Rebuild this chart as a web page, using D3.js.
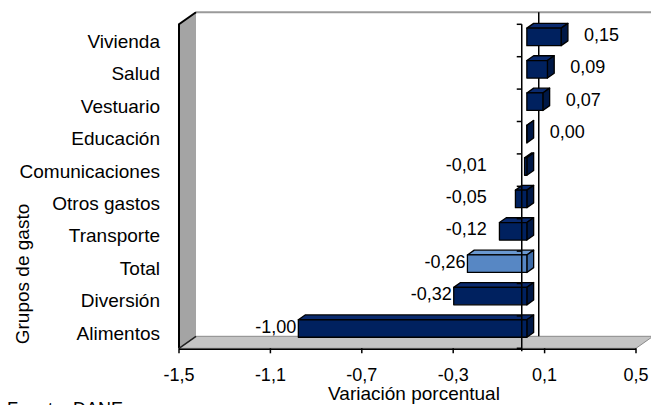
<!DOCTYPE html>
<html><head><meta charset="utf-8">
<script src="https://cdn.jsdelivr.net/npm/d3@7/dist/d3.min.js"></script>
<style>body{margin:0;background:#fff}svg{display:block}text{font-family:"Liberation Sans",Arial,sans-serif;fill:#000}</style>
</head><body><svg id="c" width="651" height="405"></svg>
<script>
const categories = ["Vivienda","Salud","Vestuario","Educación","Comunicaciones","Otros gastos","Transporte","Total","Diversión","Alimentos"];
const values = [0.15,0.09,0.07,0.00,-0.01,-0.05,-0.12,-0.26,-0.32,-1.00];
const highlight = ["Total"];
const xTicks = [-1.5,-1.1,-0.7,-0.3,0.1,0.5];

const svg = d3.select("#c");
const W = 651, H = 405;
const x = d3.scaleLinear().domain([-1.5,0.5]).range([179,636]);
const y = d3.scaleBand().domain(categories).range([24.3,348.3]);
const DX = 17, DY = -12;           // full depth offset
const bf = 0.3, bd = 0.4;          // bar front depth fraction, bar depth fraction
const fsL = 19, fsN = 18;
const loc = d3.formatLocale({decimal:",", thousands:".", grouping:[3], currency:["",""], minus:"-"});
const fmt2 = loc.format(".2f"), fmt1 = loc.format(".1f");
const x0 = x(0), yTop = y.range()[0], yBot = y.range()[1];

// back wall
svg.append("path").attr("d", `M${x(-1.5)+DX},${yTop+DY}H${W+5}V${yBot+DY}H${x(-1.5)+DX}Z`).attr("fill","#fff");
svg.append("line").attr("x1",x(-1.5)+DX).attr("x2",W+5).attr("y1",yTop+DY).attr("y2",yTop+DY).attr("stroke","#9a9a9a").attr("stroke-width",2);
// left wall
svg.append("path").attr("d",`M${x(-1.5)},${yTop}L${x(-1.5)+DX},${yTop+DY}V${yBot+DY}L${x(-1.5)},${yBot}Z`).attr("fill","#a4a4a4");
// floor
svg.append("path").attr("d",`M${x(-1.5)},${yBot}H${x(0.5)}L${x(0.5)+DX},${yBot+DY}H${x(-1.5)+DX}Z`).attr("fill","#c4c4c4").attr("stroke","#8a8a8a").attr("stroke-width",1);
svg.append("path").attr("d",`M${x(-1.5)},${yBot}L${x(-1.5)},${yTop}L${x(-1.5)+DX},${yTop+DY}`).attr("fill","none").attr("stroke","#000").attr("stroke-width",2);
svg.append("line").attr("x1",x(-1.5)).attr("y1",yBot).attr("x2",x(-1.5)+DX).attr("y2",yBot+DY).attr("stroke","#222").attr("stroke-width",1.5);
// back zero line
svg.append("line").attr("x1",x0+DX).attr("x2",x0+DX).attr("y1",yTop+DY).attr("y2",yBot+DY).attr("stroke","#000").attr("stroke-width",1.5);

// bars
const bh = y.bandwidth()*0.54;
const fx = DX*bf, fy = DY*bf, ddx = DX*bd, ddy = DY*bd;
const bars = svg.append("g").selectAll("g").data(categories.map((c,i)=>({c,v:values[i]}))).join("g");
bars.each(function(d){
  const g = d3.select(this);
  const hl = highlight.includes(d.c);
  const front = hl ? "#5787c4" : "#00215f";
  const top = hl ? "#6a98d0" : "#0a2a6e";
  const side = hl ? "#3c6aa6" : "#001846";
  const xa = Math.min(x(0),x(d.v))+fx, xb = Math.max(x(0),x(d.v))+fx;
  const yc = y(d.c)+y.bandwidth()/2+fy;
  const ya = yc-bh/2, yb = yc+bh/2;
  const st = {stroke:"#000","stroke-width":1.3,"stroke-linejoin":"round"};
  const ap = (p,f)=>{const e=g.append("path").attr("d",p).attr("fill",f);for(const k in st)e.attr(k,st[k]);};
  ap(`M${xa},${ya}L${xa+ddx},${ya+ddy}H${xb+ddx}L${xb},${ya}Z`, top);
  ap(`M${xb},${ya}L${xb+ddx},${ya+ddy}V${yb+ddy}L${xb},${yb}Z`, side);
  ap(`M${xa},${ya}H${xb}V${yb}H${xa}Z`, front);
  // value label
  const lab = g.append("text").attr("font-size",fsN).attr("dominant-baseline","central").attr("y",yc-2).text(fmt2(d.v));
  if (d.v >= 0) lab.attr("x", xb+ddx+16).attr("text-anchor","start");
  else lab.attr("x", Math.min(xa-2, x0-35)).attr("text-anchor","end");
});

// front category axis (at zero)
svg.append("line").attr("x1",x0).attr("x2",x0).attr("y1",yTop).attr("y2",yBot+3).attr("stroke","#000").attr("stroke-width",1.5);
const bounds = categories.map(c=>y(c)).concat([yBot]);
svg.append("g").selectAll("line").data(bounds).join("line").attr("x1",x0-5).attr("x2",x0).attr("y1",d=>d).attr("y2",d=>d).attr("stroke","#000").attr("stroke-width",1.5);

// bottom value axis
svg.append("line").attr("x1",x(-1.5)).attr("x2",x(0.5)).attr("y1",yBot+1).attr("y2",yBot+1).attr("stroke","#000").attr("stroke-width",1.5);
svg.append("g").selectAll("line").data(xTicks).join("line").attr("x1",d=>x(d)).attr("x2",d=>x(d)).attr("y1",yBot).attr("y2",yBot+5).attr("stroke","#000").attr("stroke-width",1.5);
svg.append("g").selectAll("text").data(xTicks).join("text").attr("x",d=>x(d)).attr("y",381).attr("text-anchor","middle").attr("font-size",fsN).text(fmt1);

// category labels
svg.append("g").selectAll("text").data(categories).join("text").attr("x",160).attr("y",d=>y(d)+y.bandwidth()/2+1).attr("text-anchor","end").attr("dominant-baseline","central").attr("font-size",fsL).text(d=>d);

// titles
svg.append("text").attr("x",414).attr("y",400).attr("text-anchor","middle").attr("font-size",fsL).text("Variación porcentual");
svg.append("text").attr("transform","translate(29,274) rotate(-90)").attr("text-anchor","middle").attr("font-size",fsL).text("Grupos de gasto");
svg.append("text").attr("x",7).attr("y",415).attr("font-size",fsN).text("Fuente: DANE");
</script></body></html>
